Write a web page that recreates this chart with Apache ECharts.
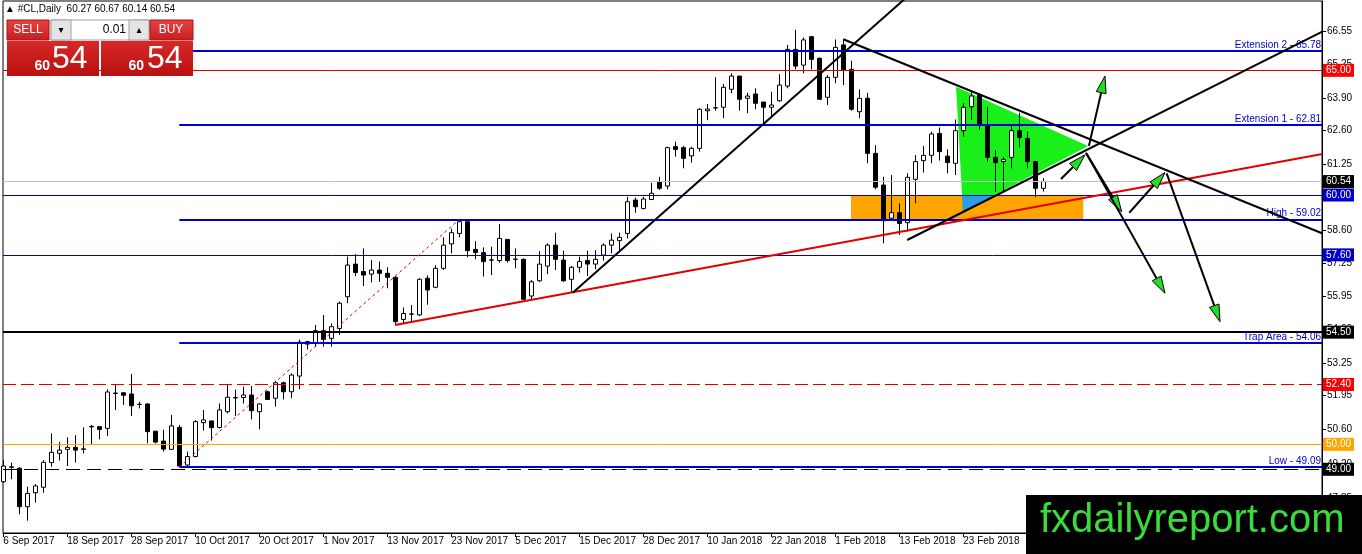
<!DOCTYPE html>
<html><head><meta charset="utf-8">
<script src="https://cdn.jsdelivr.net/npm/echarts@6/dist/echarts.min.js"></script>
<style>html,body{margin:0;padding:0;background:#fff;}#c{width:1362px;height:554px;}</style>
</head><body><div id="c"></div>
<script>
const dates = ['6 Sep 2017','7 Sep 2017','8 Sep 2017','11 Sep 2017','12 Sep 2017','13 Sep 2017','14 Sep 2017','15 Sep 2017','18 Sep 2017','19 Sep 2017','20 Sep 2017','21 Sep 2017','22 Sep 2017','25 Sep 2017','26 Sep 2017','27 Sep 2017','28 Sep 2017','29 Sep 2017',
'2 Oct 2017','3 Oct 2017','4 Oct 2017','5 Oct 2017','6 Oct 2017','9 Oct 2017','10 Oct 2017','11 Oct 2017','12 Oct 2017','13 Oct 2017','16 Oct 2017','17 Oct 2017','18 Oct 2017','19 Oct 2017','20 Oct 2017','23 Oct 2017','24 Oct 2017','25 Oct 2017','26 Oct 2017','27 Oct 2017','30 Oct 2017','31 Oct 2017',
'1 Nov 2017','2 Nov 2017','3 Nov 2017','6 Nov 2017','7 Nov 2017','8 Nov 2017','9 Nov 2017','10 Nov 2017','13 Nov 2017','14 Nov 2017','15 Nov 2017','16 Nov 2017','17 Nov 2017','20 Nov 2017','21 Nov 2017','22 Nov 2017','23 Nov 2017','24 Nov 2017','27 Nov 2017','28 Nov 2017','29 Nov 2017','30 Nov 2017',
'1 Dec 2017','4 Dec 2017','5 Dec 2017','6 Dec 2017','7 Dec 2017','8 Dec 2017','11 Dec 2017','12 Dec 2017','13 Dec 2017','14 Dec 2017','15 Dec 2017','18 Dec 2017','19 Dec 2017','20 Dec 2017','21 Dec 2017','22 Dec 2017','26 Dec 2017','27 Dec 2017','28 Dec 2017','29 Dec 2017',
'2 Jan 2018','3 Jan 2018','4 Jan 2018','5 Jan 2018','8 Jan 2018','9 Jan 2018','10 Jan 2018','11 Jan 2018','12 Jan 2018','15 Jan 2018','16 Jan 2018','17 Jan 2018','18 Jan 2018','19 Jan 2018','22 Jan 2018','23 Jan 2018','24 Jan 2018','25 Jan 2018','26 Jan 2018','29 Jan 2018','30 Jan 2018','31 Jan 2018',
'1 Feb 2018','2 Feb 2018','5 Feb 2018','6 Feb 2018','7 Feb 2018','8 Feb 2018','9 Feb 2018','12 Feb 2018','13 Feb 2018','14 Feb 2018','15 Feb 2018','16 Feb 2018','19 Feb 2018','20 Feb 2018','21 Feb 2018','22 Feb 2018','23 Feb 2018','26 Feb 2018','27 Feb 2018','28 Feb 2018',
'1 Mar 2018','2 Mar 2018','5 Mar 2018','6 Mar 2018','7 Mar 2018','8 Mar 2018','9 Mar 2018'];

const opens = [48.50,49.08,49.04,47.50,48.06,48.28,49.27,49.64,49.80,49.88,
49.80,50.70,50.71,50.64,52.04,52.07,52.02,51.60,51.62,50.53,
50.13,49.80,50.68,49.17,49.51,50.87,50.94,50.68,51.31,51.86,
51.88,51.98,51.31,52.11,51.85,52.47,52.11,52.74,54.12,54.08,
54.56,54.25,54.65,55.92,57.23,56.93,56.83,56.99,56.86,56.70,
55.01,55.22,55.19,56.66,56.30,57.06,58.04,58.46,58.93,57.82,
57.69,57.39,57.37,58.22,57.42,57.42,55.95,56.56,57.15,57.99,
57.39,56.62,57.10,57.37,57.23,57.59,57.99,58.17,58.46,59.80,
59.46,59.82,60.53,60.36,61.94,61.90,61.57,61.87,63.38,63.49,
63.52,64.24,64.77,63.88,64.05,63.73,63.52,63.78,64.37,65.84,
65.21,66.35,65.48,63.92,64.72,66.02,65.04,63.34,63.88,61.67,
60.40,59.07,59.29,58.89,60.63,61.38,61.59,62.47,61.56,61.27,
62.58,63.54,64.01,62.81,61.51,61.34,61.51,62.58,62.27,61.34,
60.27];
const highs = [49.37,49.27,49.08,48.30,48.41,49.37,50.44,50.10,50.28,50.37,
50.68,50.78,50.71,52.20,52.38,52.07,52.82,51.71,51.64,50.53,
50.58,51.18,50.78,49.71,50.98,51.38,50.94,51.64,52.38,52.20,
52.31,52.34,51.64,52.15,52.55,52.51,52.85,54.20,54.15,54.79,
55.19,54.85,55.72,57.53,57.63,57.86,57.40,57.33,57.10,56.75,
55.49,55.59,56.66,56.78,57.19,58.30,58.65,59.02,58.98,58.15,
57.90,57.93,58.84,58.22,57.86,57.46,56.59,57.75,58.06,58.49,
57.77,57.15,57.53,57.77,57.79,58.06,58.46,58.49,59.93,59.90,
59.93,60.49,60.73,61.94,62.14,61.97,61.94,63.48,63.65,64.72,
64.45,64.88,64.77,64.10,64.28,63.73,64.14,64.85,66.02,66.62,
66.32,66.38,65.52,64.81,66.24,66.24,65.39,64.24,64.10,62.00,
60.73,60.80,59.67,60.87,61.60,61.97,62.54,62.71,61.83,63.03,
63.68,64.14,64.08,63.54,61.80,61.53,62.81,63.30,62.54,61.34,
60.67];
const lows = [48.46,48.60,47.20,46.94,47.66,48.06,49.10,49.35,49.13,49.27,
49.64,50.00,50.20,50.33,51.38,51.58,51.14,51.44,50.04,50.04,
49.71,49.77,49.09,49.13,49.48,50.55,50.15,50.64,51.24,51.14,
51.64,51.00,50.60,51.78,51.51,51.80,51.85,52.21,53.80,53.92,
53.92,53.92,54.39,55.66,56.75,56.35,56.50,56.52,56.26,54.79,
54.83,54.92,55.15,55.60,56.26,56.99,57.66,58.30,57.50,57.42,
56.73,56.79,57.29,57.29,57.06,55.79,55.79,56.52,56.83,56.99,
56.52,56.08,56.89,56.75,57.02,57.37,57.66,57.77,58.26,59.29,
59.42,59.80,60.20,60.23,61.54,61.07,61.30,61.74,63.00,63.38,
63.08,64.08,63.38,63.28,63.44,62.87,63.08,63.74,64.28,65.04,
64.88,65.04,63.81,63.61,64.48,64.41,63.38,63.08,61.27,60.23,
58.06,59.02,58.40,58.53,59.67,60.90,61.27,61.38,60.87,60.80,
62.34,63.01,62.61,61.34,60.13,60.13,61.07,61.91,61.07,59.91,
60.14];
const closes = [49.13,49.10,47.50,48.03,48.33,49.28,49.68,49.77,49.88,49.77,
49.82,50.72,50.60,52.10,52.06,51.97,51.55,51.61,50.51,50.09,
49.81,50.74,49.13,49.51,50.91,50.98,50.67,51.38,51.89,51.88,
51.98,51.35,51.62,51.80,52.47,52.11,52.78,54.10,54.02,54.56,
54.21,54.72,55.66,57.19,56.89,56.79,56.99,56.86,56.70,54.92,
55.25,55.23,56.62,56.19,57.06,57.99,58.49,58.93,57.77,57.69,
57.33,57.40,58.26,57.37,57.43,55.82,56.52,57.23,57.99,57.42,
56.56,57.10,57.33,57.23,57.42,57.99,58.19,58.30,59.73,59.53,
59.84,60.07,60.27,61.90,61.83,61.47,61.87,63.44,63.45,63.50,
64.32,64.77,63.84,63.97,63.68,63.52,63.61,64.41,65.84,65.17,
66.22,65.44,63.84,64.72,65.92,65.01,63.44,63.88,61.67,60.31,
58.97,59.29,58.86,60.71,61.34,61.59,62.45,61.74,61.30,62.58,
63.52,63.97,62.81,61.51,61.30,61.43,62.58,62.31,61.34,60.27,
60.54];

const priceTicks = [66.55,65.25,63.90,62.60,61.25,59.95,58.60,57.25,55.95,54.60,53.25,51.95,50.60,49.20,47.85];

// Fibonacci style levels drawn from the swing-low bar
const fibLevels = [65.78, 62.81, 59.02, 54.06, 49.09];
const fibNames = ['Extension 2', 'Extension 1', 'High', 'Trap Area', 'Low'];
const fibStartBar = 22;

// horizontal levels with axis badges
const levelValues = [65.00, 60.54, 60.00, 57.60, 54.50, 52.40, 50.00, 49.00];

// trendlines [bar1, price1, bar2, price2]
const blackTrends = [[71.18, 56.08, 114.0, 68.24], [105.0, 66.245, 164.84, 58.465], [112.99, 58.196, 164.88, 66.55]];
const redTrend = [48.96, 54.787, 164.88, 61.645];
const dottedTrend = [22, 49.09, 57, 59.02];

// zones
const supportZone = [105.96, 135.0, 59.02, 60.00]; // bar from, bar to, low, high
const triangleZone = [[119.09, 64.34], [119.96, 59.335], [135.6, 61.966]];
const overlapZone = [[119.85, 60.00], [119.96, 59.335], [123.93, 60.00]];

// scenario arrows [bar1, price1, bar2, price2]
const arrows = [
  [135.70, 61.97, 137.71, 64.77],
  [132.21, 60.64, 135.21, 61.61],
  [135.34, 61.69, 139.80, 59.33],
  [135.34, 61.69, 145.21, 56.06],
  [140.75, 59.29, 145.21, 60.90],
  [145.42, 60.87, 152.09, 54.92]
];

const FONT = '"Liberation Sans", "DejaVu Sans", sans-serif';
const BLUE = '#0000CD', RED = '#E00000';
const last = dates.length - 1;
const xMin = -0.0375, xMax = 164.8375;

const levelStyles = [
  {line: {color: RED, width: 1, type: 'solid'}, bg: '#FF0000'},
  {line: {color: '#C0C0C0', width: 1, type: 'solid'}, bg: '#000000'},
  {line: {color: BLUE, width: 1, type: 'solid'}, bg: BLUE},
  {line: {color: BLUE, width: 1, type: 'solid'}, bg: BLUE},
  {line: {color: '#000000', width: 2, type: 'solid'}, bg: '#000000'},
  {line: {color: RED, width: 1, type: [13, 5]}, bg: '#FF0000'},
  {line: {color: '#FFA500', width: 1, type: 'solid'}, bg: '#FFA500'},
  {line: {color: '#000000', width: 1, type: [14, 7]}, bg: '#000000'}
];

const candleData = dates.map((d, i) => [i, opens[i], closes[i], lows[i], highs[i]]);
const xTickValues = dates.map((d, i) => i).filter(i => i % 8 === 0);

const markData = [];
levelValues.forEach((v, k) => {
  markData.push({
    yAxis: v,
    lineStyle: levelStyles[k].line,
    label: {show: true, position: 'end', distance: 1, formatter: v.toFixed(2),
      color: '#fff', backgroundColor: levelStyles[k].bg, padding: [2, 3, 1, 3],
      fontSize: 10, fontFamily: FONT}
  });
});
fibLevels.forEach((v, k) => {
  markData.push([
    {coord: [fibStartBar, v], lineStyle: {color: BLUE, width: 2, type: 'solid'},
     label: {show: true, position: 'insideEndTop', distance: 1, formatter: fibNames[k] + ' - ' + v.toFixed(2),
       color: BLUE, fontSize: 10, fontFamily: FONT}},
    {coord: [xMax, v]}
  ]);
});

function polySeries(points, fill, z) {
  return {
    type: 'custom', z: z, silent: true, clip: true,
    data: [points[0]],
    renderItem: function (params, api) {
      return {type: 'polygon', shape: {points: points.map(p => api.coord(p))}, style: {fill: fill}};
    }
  };
}

const series = [
  polySeries([[supportZone[0], supportZone[3]], [supportZone[1], supportZone[3]], [supportZone[1], supportZone[2]], [supportZone[0], supportZone[2]]], '#FFA500', 1),
  polySeries(triangleZone, '#19F019', 1),
  polySeries(overlapZone, '#2E9BE6', 1),
  {
    type: 'candlestick', data: candleData, barWidth: 5, z: 3, silent: true,
    encode: {x: 0, y: [1, 2, 3, 4]},
    itemStyle: {color: '#ffffff', color0: '#000000', borderColor: '#000000', borderColor0: '#000000', borderWidth: 1}
  },
  {
    type: 'line', data: [[0, 60]], symbol: 'none', lineStyle: {opacity: 0}, z: 4, silent: true,
    markLine: {symbol: ['none', 'none'], silent: true, animation: false, data: markData}
  },
  {
    type: 'line', symbol: 'none', z: 5, silent: true,
    data: [[dottedTrend[0], dottedTrend[1]], [dottedTrend[2], dottedTrend[3]]],
    lineStyle: {color: RED, width: 1, type: [3, 3]}
  },
  {
    type: 'line', symbol: 'none', z: 5, silent: true,
    data: [[redTrend[0], redTrend[1]], [redTrend[2], redTrend[3]]],
    lineStyle: {color: RED, width: 2}
  }
];
blackTrends.forEach(t => series.push({
  type: 'line', symbol: 'none', z: 5, silent: true,
  data: [[t[0], t[1]], [t[2], t[3]]],
  lineStyle: {color: '#000', width: 2}
}));
series.push({
  type: 'custom', z: 6, silent: true, data: arrows,
  encode: {x: [0, 2], y: [1, 3]},
  renderItem: function (params, api) {
    const p1 = api.coord([api.value(0), api.value(1)]);
    const p2 = api.coord([api.value(2), api.value(3)]);
    const dx = p2[0] - p1[0], dy = p2[1] - p1[1], len = Math.hypot(dx, dy);
    const ux = dx / len, uy = dy / len, nx = -uy, ny = ux;
    const L = 17, W = 5;
    const bx = p2[0] - ux * L, by = p2[1] - uy * L;
    return {type: 'group', children: [
      {type: 'line', shape: {x1: p1[0], y1: p1[1], x2: bx, y2: by}, style: {stroke: '#000', lineWidth: 2}},
      {type: 'polygon', shape: {points: [[p2[0], p2[1]], [bx + nx * W, by + ny * W], [bx - nx * W, by - ny * W]]},
       style: {fill: '#22DD22', stroke: '#000', lineWidth: 1}}
    ]};
  }
});

const lastO = opens[last].toFixed(2), lastH = highs[last].toFixed(2), lastL = lows[last].toFixed(2), lastC = closes[last].toFixed(2);
const bigPart = lastC.split('.')[1], smallPart = lastC.split('.')[0];
const redGrad = (a, b) => ({type: 'linear', x: 0, y: 0, x2: 0, y2: 1, colorStops: [{offset: 0, color: a}, {offset: 1, color: b}]});

const graphic = [
  {type: 'text', x: 5, y: 4, z: 50, style: {text: '▲ #CL,Daily  ' + [lastO, lastH, lastL, lastC].join(' '), font: '10px ' + FONT, fill: '#000'}},
  // trade panel
  {type: 'rect', z: 50, shape: {x: 7, y: 20, width: 42, height: 20}, style: {fill: redGrad('#E84444', '#C41E1E'), stroke: '#B01010'}},
  {type: 'text', z: 51, x: 28, y: 30, style: {text: 'SELL', font: '12px ' + FONT, fill: '#fff', align: 'center', verticalAlign: 'middle'}},
  {type: 'rect', z: 50, shape: {x: 51, y: 20, width: 98, height: 20}, style: {fill: '#fff', stroke: '#A0A0A0'}},
  {type: 'rect', z: 50, shape: {x: 51, y: 20, width: 20, height: 20}, style: {fill: '#E4E4E4', stroke: '#A0A0A0'}},
  {type: 'rect', z: 50, shape: {x: 129, y: 20, width: 20, height: 20}, style: {fill: '#E4E4E4', stroke: '#A0A0A0'}},
  {type: 'text', z: 51, x: 61, y: 30, style: {text: '▾', font: '10px "DejaVu Sans"', fill: '#000', align: 'center', verticalAlign: 'middle'}},
  {type: 'text', z: 51, x: 139, y: 30, style: {text: '▴', font: '10px "DejaVu Sans"', fill: '#000', align: 'center', verticalAlign: 'middle'}},
  {type: 'text', z: 51, x: 126, y: 30, style: {text: '0.01', font: '12px ' + FONT, fill: '#000', align: 'right', verticalAlign: 'middle'}},
  {type: 'rect', z: 50, shape: {x: 150, y: 20, width: 43, height: 20}, style: {fill: redGrad('#E84444', '#C41E1E'), stroke: '#B01010'}},
  {type: 'text', z: 51, x: 171, y: 30, style: {text: 'BUY', font: '12px ' + FONT, fill: '#fff', align: 'center', verticalAlign: 'middle'}},
  {type: 'rect', z: 50, shape: {x: 7, y: 41, width: 92, height: 35}, style: {fill: redGrad('#D82828', '#B81010')}},
  {type: 'rect', z: 50, shape: {x: 101, y: 41, width: 92, height: 35}, style: {fill: redGrad('#D82828', '#B81010')}},
  {type: 'text', z: 51, x: 50, y: 66, style: {text: smallPart, font: 'bold 14px ' + FONT, fill: '#fff', align: 'right', verticalAlign: 'middle'}},
  {type: 'text', z: 51, x: 52, y: 59, style: {text: bigPart, font: '32px ' + FONT, fill: '#fff', align: 'left', verticalAlign: 'middle'}},
  {type: 'text', z: 51, x: 144, y: 66, style: {text: smallPart, font: 'bold 14px ' + FONT, fill: '#fff', align: 'right', verticalAlign: 'middle'}},
  {type: 'text', z: 51, x: 147, y: 59, style: {text: bigPart, font: '32px ' + FONT, fill: '#fff', align: 'left', verticalAlign: 'middle'}},
  // watermark
  {type: 'rect', z: 60, shape: {x: 1026, y: 495, width: 336, height: 59}, style: {fill: '#000'}},
  {type: 'text', z: 61, x: 1040, y: 521, style: {text: 'fxdailyreport.com', font: '40px ' + FONT, fill: '#3ADB3A', align: 'left', verticalAlign: 'middle'}}
];

const chart = echarts.init(document.getElementById('c'), null, {renderer: 'canvas'});
chart.setOption({
  animation: false,
  backgroundColor: '#ffffff',
  textStyle: {fontFamily: FONT},
  grid: {left: 3, right: 40, top: 1, bottom: 21, show: true, borderColor: '#000', borderWidth: 1, backgroundColor: '#fff'},
  xAxis: {
    type: 'value', min: xMin, max: xMax, splitLine: {show: false},
    axisLine: {show: true, onZero: false, lineStyle: {color: '#000'}},
    axisTick: {show: true, customValues: xTickValues, length: 4, lineStyle: {color: '#000'}},
    axisLabel: {customValues: xTickValues, formatter: v => dates[Math.round(v)] || '', align: 'left', margin: 3, color: '#000', fontSize: 10, fontFamily: FONT}
  },
  yAxis: {
    type: 'value', position: 'right', min: 46.445, max: 67.781, splitLine: {show: false},
    axisLine: {show: true, onZero: false, lineStyle: {color: '#000'}},
    axisTick: {show: true, customValues: priceTicks, length: 4, lineStyle: {color: '#000'}},
    axisLabel: {customValues: priceTicks, formatter: v => v.toFixed(2), margin: 5, color: '#000', fontSize: 10, fontFamily: FONT}
  },
  series: series,
  graphic: graphic
});
</script>
</body></html>
